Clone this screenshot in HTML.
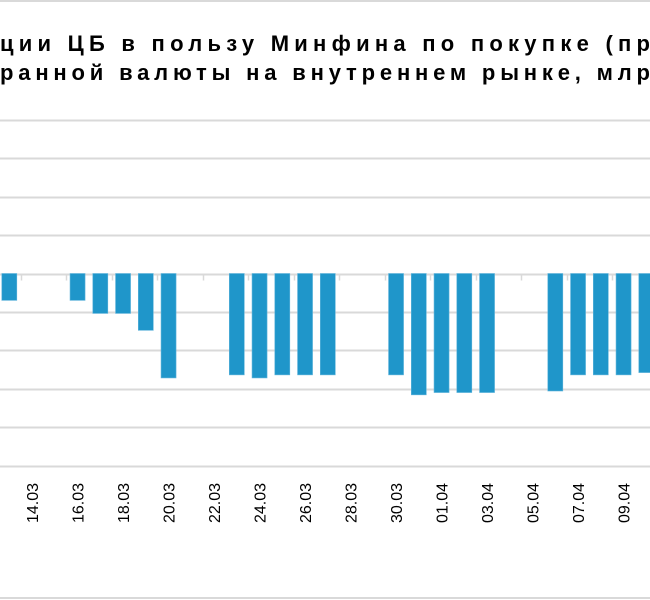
<!DOCTYPE html>
<html><head><meta charset="utf-8"><style>
html,body{margin:0;padding:0;background:#fff;width:650px;height:600px;overflow:hidden}
svg{display:block}
</style></head><body>
<svg id="chart" width="650" height="600" font-family="'Liberation Sans', Arial, sans-serif">
  <g font-weight="bold" font-size="22" fill="#000">
    <text x="0" y="51" textLength="650" lengthAdjust="spacing">ции ЦБ в пользу Минфина по покупке (пр</text>
    <text x="652" y="51">одаже)</text>
    <text x="0" y="80" textLength="650" lengthAdjust="spacing">ранной валюты на внутреннем рынке, млр</text>
    <text x="652" y="80">д руб.</text>
  </g>
  <line x1="0" y1="1" x2="650" y2="1" stroke="#d9d9d9" stroke-width="2"/>
  <line x1="0" y1="598" x2="650" y2="598" stroke="#d9d9d9" stroke-width="2"/>
  <g id="grid"></g>
  <g id="bars"></g>
  <g id="ticks"></g>
  <g id="labels"></g>
</svg>
<script>
const dayIndex = [0,3,4,5,6,7,10,11,12,13,14,17,18,19,20,21,24,25,26,27,28];
const values = [-35,-35,-52,-52,-74,-136,-132,-136,-132,-132,-132,-132,-158,-155,-155,-155,-153,-132,-132,-132,-129];
const tickLabels = ["14.03","16.03","18.03","20.03","22.03","24.03","26.03","28.03","30.03","01.04","03.04","05.04","07.04","09.04"];
const labelIndex = [1,3,5,7,9,11,13,15,17,19,21,23,25,27];
const gridValues = [200,150,100,50,0,-50,-100,-150,-200,-250];

const NS='http://www.w3.org/2000/svg';
const zeroY=273.5, pxPerUnit=38.4/50, x0=9.3, slot=22.75, barW=15;
const yScale=v=>zeroY - v*pxPerUnit;
const xScale=i=>x0 + i*slot;
function mk(tag,attrs,parent){const e=document.createElementNS(NS,tag);for(const k in attrs)e.setAttribute(k,attrs[k]);parent.appendChild(e);return e;}

const grid=document.getElementById('grid');
gridValues.forEach(v=>{
  const y=Math.round(yScale(v))+0.5;
  const l=mk('line',{x1:0,x2:650,y1:y,y2:y,stroke:'#d9d9d9','stroke-width':2},grid);
  
  
});

const bars=document.getElementById('bars');
dayIndex.forEach((d,i)=>{
  const v=values[i];
  const y1=yScale(0), y2=yScale(v);
  const r=mk('rect',{x:xScale(d)-barW/2,y:Math.min(y1,y2),width:barW,height:Math.abs(y2-y1),fill:'#1f96ca',stroke:'#5fb3da','stroke-width':0.6},bars);
  
  
});

const ticks=document.getElementById('ticks');
for(let k=0;k<15;k++){
  const x=Math.round(xScale(2*k+0.5))+0.5;
  const t=mk('line',{x1:x,x2:x,y1:zeroY,y2:zeroY+7,stroke:'#d9d9d9','stroke-width':1.5},ticks);
  
  
}

const labels=document.getElementById('labels');
tickLabels.forEach((s,i)=>{
  const x=xScale(labelIndex[i])+6;
  const t=mk('text',{x:0,y:0,transform:'translate('+x+',483) rotate(-90)','text-anchor':'end','font-size':16,fill:'#000'},labels);
  t.textContent=s;
  
  
});
</script>
</body></html>
